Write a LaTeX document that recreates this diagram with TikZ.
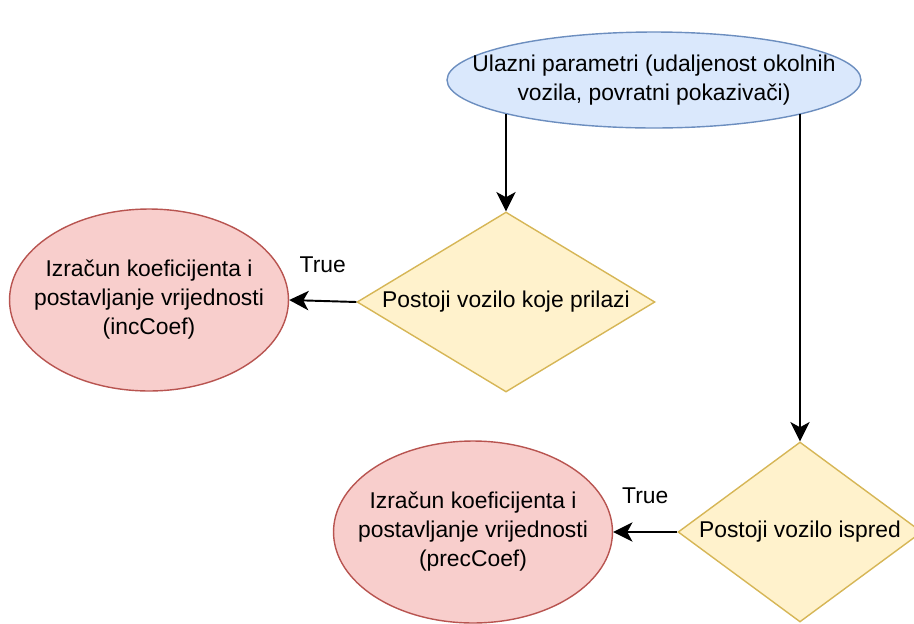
\documentclass[tikz,border=0pt]{standalone}
\usepackage{fontspec}
\setmainfont{Liberation Sans}
\usetikzlibrary{shapes.geometric,arrows.meta}
\definecolor{bluefill}{HTML}{DAE8FC}
\definecolor{bluedraw}{HTML}{6C8EBF}
\definecolor{yellowfill}{HTML}{FFF2CC}
\definecolor{yellowdraw}{HTML}{D6B656}
\definecolor{redfill}{HTML}{F8CECC}
\definecolor{reddraw}{HTML}{B85450}
\begin{document}
\begin{tikzpicture}[x=0.02cm,y=-0.02cm,
    txt/.style={align=center,font=\fontsize{13}{16.5}\selectfont},
    input/.style={ellipse,draw=bluedraw,fill=bluefill,line width=0.8pt,inner sep=0pt},
    calc/.style={ellipse,draw=reddraw,fill=redfill,line width=0.8pt,inner sep=0pt,
      minimum width=5.58cm,minimum height=3.64cm},
    test/.style={diamond,draw=yellowdraw,fill=yellowfill,line width=0.8pt,inner sep=0pt,
      minimum height=3.6cm},
    arr/.style={-{Stealth[length=11pt,width=11pt,inset=3pt]},line width=1.1pt}]
  \useasboundingbox (0,0) rectangle (914,623);
  \node[input,minimum width=8.28cm,minimum height=1.92cm,
    label={[txt]center:Ulazni parametri (udaljenost okolnih\\vozila, povratni pokazivači)}] (ulaz) at (654,80) {};
  \node[test,minimum width=5.96cm,label={[txt]center:Postoji vozilo koje prilazi}] (prilazi) at (506,302) {};
  \node[test,minimum width=4.88cm,label={[txt]center:Postoji vozilo ispred}] (ispred) at (800,532) {};
  \node[calc,label={[txt]center:Izračun koeficijenta i\\postavljanje vrijednosti\\(incCoef)}] (inc) at (149,300) {};
  \node[calc,label={[txt]center:Izračun koeficijenta i\\postavljanje vrijednosti\\(precCoef)}] (prec) at (473,532) {};
  \draw[arr] (ulaz.193 -| prilazi.north) -- (prilazi.north);
  \draw[arr] (ulaz.347 -| ispred.north) -- (ispred.north);
  \draw[arr] (prilazi.west) -- node[txt,above=12pt] (true1) {True} (inc.east);
  \draw[arr] (ispred.west) -- node[txt,above=12pt] (true2) {True} (prec.east);
\end{tikzpicture}
\end{document}
